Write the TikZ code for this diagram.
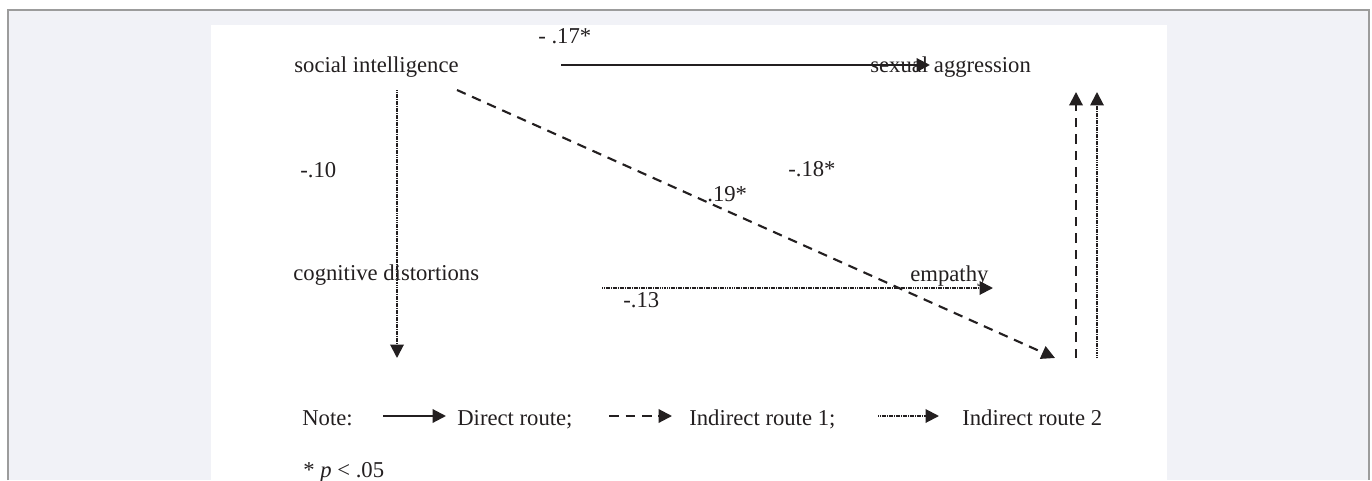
\documentclass[tikz,border=0pt]{standalone}
\usepackage{fontspec}
\setmainfont{Liberation Serif}
\usepackage{tikz}
\usetikzlibrary{arrows.meta,positioning}
\usepackage{xcolor}
\definecolor{PageGray}{HTML}{F1F2F7}
\definecolor{FrameGray}{HTML}{9C9C9C}
\definecolor{InkBlack}{HTML}{231F20}
\tikzset{
    % text set on its baseline, no padding
    varlabel/.style={
        inner sep=0pt,
        anchor=base west,
        text=InkBlack,
        font=\fontsize{12.9}{15}\selectfont
    },
    coeflabel/.style={
        varlabel
    },
    directarrow/.style={
        -{Triangle[length=0.27cm,width=0.27cm]},
        line width=1.2pt,
        color=InkBlack
    },
    indirectone/.style={
        -{Triangle[length=0.27cm,width=0.27cm]},
        dash pattern=on 0.19cm off 0.14cm,
        line width=1.2pt,
        color=InkBlack
    },
    indirecttwo/.style={
        -{Triangle[length=0.27cm,width=0.27cm]},
        dash pattern=on 0.7pt off 0.3pt,
        line width=1.1pt,
        color=InkBlack
    }
}
\begin{document}
\begin{tikzpicture}[x=0.02cm,y=-0.02cm]
    \useasboundingbox (0,0) rectangle (1372,480);
    % page frame and white panel
    \fill[PageGray] (8,10) rectangle (1369,480);
    \draw[FrameGray, line width=0.6pt] (8,480) -- (8,10) -- (1369,10) -- (1369,480);
    \fill[white] (211,25) rectangle (1167,480);

    % variables
    \node[varlabel] (social) at (294,72) {social intelligence};
    \node[varlabel] (sexagg) at (870,72) {sexual aggression};
    \node[varlabel] (cogdist) at (293,280) {cognitive distortions};
    \node[varlabel] (empathy) at (910,281) {empathy};

    % coefficients
    \node[coeflabel] (c17) at (538,43) {- .17*};
    \node[coeflabel] (c10) at (300,177) {-.10};
    \node[coeflabel] (c18) at (788,176) {-.18*};
    \node[coeflabel] (c19) at (707,201) {.19*};
    \node[coeflabel] (c13) at (623,307) {-.13};

    % arrow end points
    \coordinate (siRight) at (561,65);
    \coordinate (saLeft) at (930,65);
    \coordinate (siDown) at (397,90);
    \coordinate (cdDown) at (397,358);
    \coordinate (siDiag) at (457,90);
    \coordinate (diagEnd) at (1055,358);
    \coordinate (cdRight) at (602,288);
    \coordinate (emLeft) at (993,288);
    \coordinate (upOneFoot) at (1076,358);
    \coordinate (upOneHead) at (1076,92);
    \coordinate (upTwoFoot) at (1097,358);
    \coordinate (upTwoHead) at (1097,92);

    \draw[directarrow] (siRight) -- (saLeft);
    \draw[indirecttwo] (siDown) -- (cdDown);
    \draw[indirectone] (siDiag) -- (diagEnd);
    \draw[indirecttwo] (cdRight) -- (emLeft);
    \draw[indirectone] (upOneFoot) -- (upOneHead);
    \draw[indirecttwo] (upTwoFoot) -- (upTwoHead);

    % legend
    \node[varlabel] (note) at (302,425) {Note:};
    \coordinate (keyOneA) at (383,416);
    \coordinate (keyOneB) at (446,416);
    \node[varlabel] (keydirect) at (457,425) {Direct route;};
    \coordinate (keyTwoA) at (609,416);
    \coordinate (keyTwoB) at (672,416);
    \node[varlabel] (keyindone) at (689,425) {Indirect route 1;};
    \coordinate (keyThreeA) at (878,416);
    \coordinate (keyThreeB) at (939,416);
    \node[varlabel] (keyindtwo) at (962,425) {Indirect route 2};
    \draw[directarrow] (keyOneA) -- (keyOneB);
    \draw[indirectone] (keyTwoA) -- (keyTwoB);
    \draw[indirecttwo] (keyThreeA) -- (keyThreeB);

    \node[varlabel] (signif) at (303,477) {* \textit{p} < .05};
\end{tikzpicture}
\end{document}
